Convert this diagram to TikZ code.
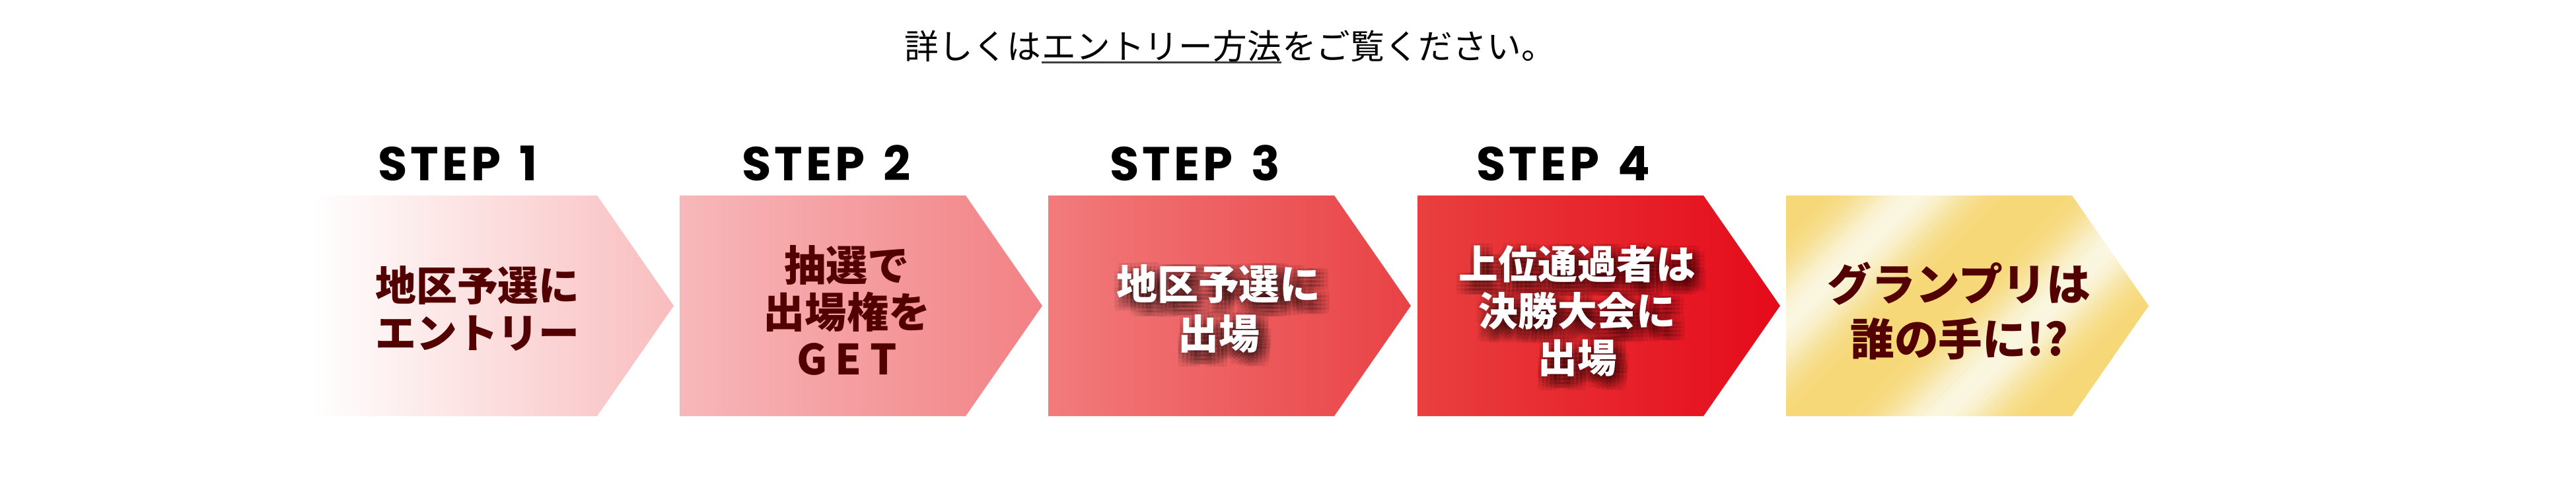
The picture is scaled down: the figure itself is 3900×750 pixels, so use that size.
\documentclass[tikz,border=0pt]{standalone}
\usepackage{fontspec}
\newfontfamily\jp{Noto Sans CJK JP}
\newfontfamily\stepf{Poppins}[LetterSpace=7]
\definecolor{txt}{HTML}{520000}
\definecolor{c1b}{HTML}{F9BDBE}
\definecolor{c2a}{HTML}{F7B8BA}
\definecolor{c2b}{HTML}{F28184}
\definecolor{c3a}{HTML}{F27B7C}
\definecolor{c3b}{HTML}{E94245}
\definecolor{c4a}{HTML}{E9403F}
\definecolor{c4b}{HTML}{E50A1A}
\definecolor{gd}{HTML}{F6D878}
\definecolor{gl}{HTML}{FAF6E0}
\tikzset{
  steplab/.style={font=\stepf\bfseries\fontsize{20.5}{24}\selectfont, anchor=base, inner sep=0pt, text=black},
  jptxt/.style={align=center, inner sep=0pt, text=txt},
  wtxt/.style={align=center, inner sep=0pt, text=white},
  shtxt/.style={align=center, inner sep=0pt, text=black, text opacity=0.055},
  toptxt/.style={font=\jp\fontsize{14.7}{17}\selectfont, inner sep=0pt, anchor=base west, text=black},
  uline/.style={line width=0.8pt, black!75},
}
\begin{document}
\begin{tikzpicture}[x=0.01cm,y=-0.01cm]
\useasboundingbox (0,0) rectangle (3900,750);
% chevrons
\foreach \L/\A/\B in {471/white/c1b, 1029/c2a/c2b, 1587/c3a/c3b, 2146/c4a/c4b} {
  \shade[left color=\A, right color=\B] (\L,296) -- ++(433,0) -- ++(116,167) -- ++(-116,167) -- ++(-433,0) -- cycle;
}
\begin{scope}
  \clip (2704,296) -- ++(433,0) -- ++(116,167) -- ++(-116,167) -- ++(-433,0) -- cycle;
  \foreach \s in {2980,2988,...,3790} {
    \pgfmathtruncatemacro\p{100*(0.5+0.5*cos((\s-3190)*0.9677))^2}
    \colorlet{stripc}{gl!\p!gd}
    \fill[stripc] (\s-200,200) -- (\s-190,200) -- (\s-790,800) -- (\s-800,800) -- cycle;
  }
\end{scope}
% step labels
\node[steplab] (s1) at (693,273) {STEP\hspace{8pt}1};
\node[steplab] (s2) at (1251,273) {STEP\hspace{8pt}2};
\node[steplab] (s3) at (1809,273) {STEP\hspace{8pt}3};
\node[steplab] (s4) at (2367,273) {STEP\hspace{8pt}4};
% texts
\node[jptxt, font=\jp\bfseries\fontsize{17.6}{20.5}\selectfont] (t1) at (723,467) {地区予選に\\エントリー};
\node[jptxt, font=\jp\bfseries\fontsize{18}{20.2}\selectfont] (t2) at (1282,470) {抽選で\\出場権を\\G\hspace{3.5pt}E\hspace{3.5pt}T};
\foreach \dx in {-12,-6,0,6,12}{\foreach \dy in {-12,-6,0,6,12}{
  \node[shtxt, font=\jp\bfseries\fontsize{17.6}{21.3}\selectfont] at (1845+7+\dx,468+9+\dy) {地区予選に\\出場};
  \node[shtxt, font=\jp\bfseries\fontsize{17}{20.2}\selectfont] at (2388+7+\dx,471+9+\dy) {上位通過者は\\決勝大会に\\出場};
}}
\node[wtxt, font=\jp\bfseries\fontsize{17.6}{21.3}\selectfont] (t3) at (1845,468) {地区予選に\\出場};
\node[wtxt, font=\jp\bfseries\fontsize{17}{20.2}\selectfont] (t4) at (2388,471) {上位通過者は\\決勝大会に\\出場};
\node[jptxt, font=\jp\bfseries\fontsize{19}{23.6}\selectfont] (t5) at (2966,471) {グランプリは\\誰の手に!?};
% top text
\node[toptxt] (tt1) at (1369,89) {詳しくは};
\node[toptxt] (tt2) at (tt1.base east) {エントリー方法};
\node[toptxt] (tt3) at (tt2.base east) {をご覧ください。};
\draw[uline] ([yshift=-1.5pt]tt2.base west) -- ([yshift=-1.5pt]tt2.base east);
\end{tikzpicture}
\end{document}
